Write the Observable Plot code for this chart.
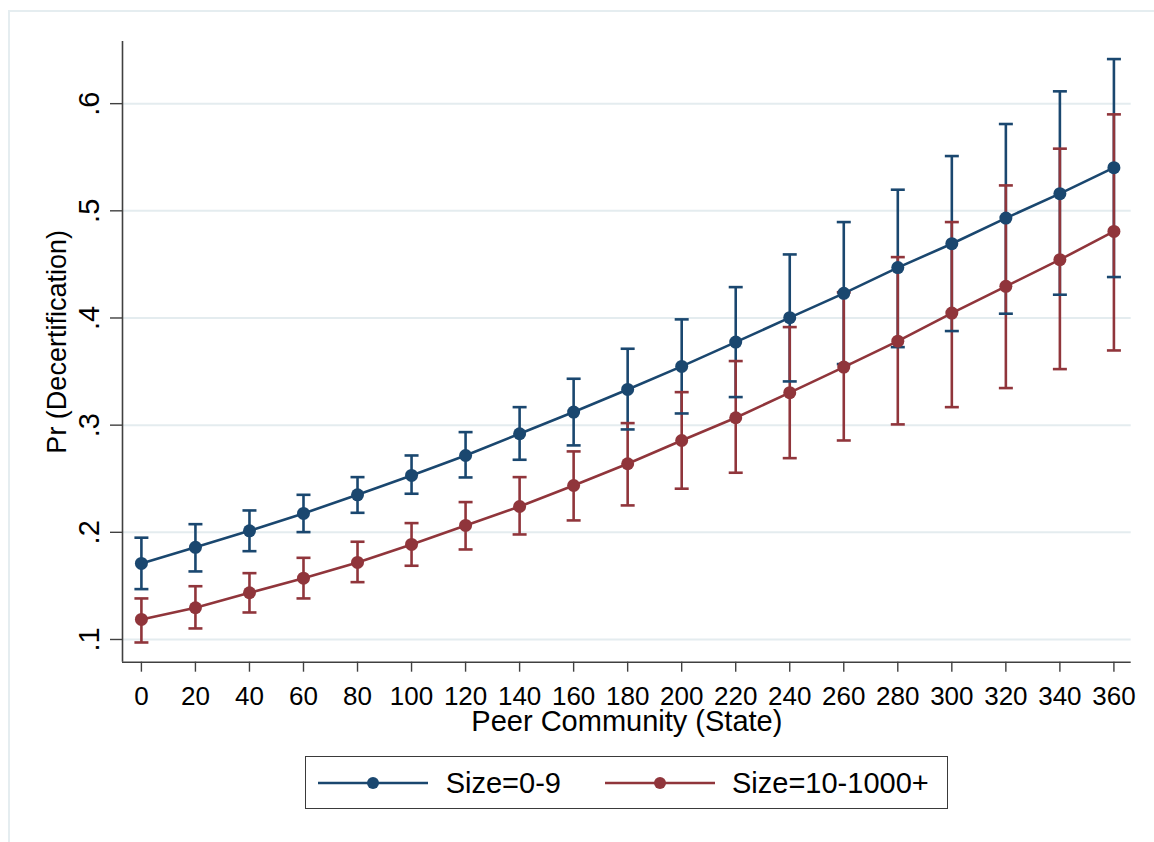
<!DOCTYPE html>
<html>
<head>
<meta charset="utf-8">
<script src="https://cdn.jsdelivr.net/npm/d3@7"></script>
<script src="https://cdn.jsdelivr.net/npm/@observablehq/plot@0.6"></script>
<style>
  body { margin: 0; background: #fff; font-family: "Liberation Sans", Arial, sans-serif; }
  #wrap { position: relative; width: 1154px; height: 842px; overflow: hidden; background: #fff; }
  #frame { position: absolute; left: 8px; top: 10px; width: 1170px; height: 900px; border: 2px solid #e5edf0; box-sizing: border-box; }
  #chart { position: absolute; left: 0; top: 0; }
  #legend { position: absolute; left: 305px; top: 756px; width: 643px; height: 53px; border: 1.5px solid #3a3a3a; box-sizing: border-box; background: #fff; }
  #legend .sw { position: absolute; top: 18px; }
  #legend .lab { position: absolute; top: 11px; font-size: 29px; line-height: 30px; color: #000; white-space: nowrap; }
</style>
</head>
<body>
<div id="wrap">
  <div id="frame"></div>
  <div id="chart"></div>
  <div id="legend"></div>
</div>
<script>
// ---- data ----
const peerCommunity = [0, 20, 40, 60, 80, 100, 120, 140, 160, 180, 200, 220, 240, 260, 280, 300, 320, 340, 360];

const seriesNames = ["Size=0-9", "Size=10-1000+"];
const seriesColors = ["#1a476f", "#90353b"];

const small_mean = [0.171, 0.186, 0.2014, 0.2176, 0.235, 0.2531, 0.2717, 0.292, 0.3122, 0.3333, 0.3548, 0.3775, 0.4003, 0.4230, 0.447, 0.4693, 0.4932, 0.516, 0.5403];
const small_lo   = [0.147, 0.1635, 0.1824, 0.2002, 0.2182, 0.236, 0.2512, 0.2677, 0.2811, 0.296, 0.3109, 0.3262, 0.3408, 0.357, 0.3728, 0.3878, 0.404, 0.4217, 0.4382];
const small_hi   = [0.195, 0.2076, 0.2204, 0.235, 0.2515, 0.2717, 0.2935, 0.3168, 0.3433, 0.3713, 0.3987, 0.4288, 0.4593, 0.4895, 0.5197, 0.5511, 0.581, 0.6115, 0.6416];

const large_mean = [0.1187, 0.1296, 0.1436, 0.1572, 0.1719, 0.1887, 0.2064, 0.2241, 0.2437, 0.264, 0.2857, 0.3069, 0.3303, 0.3542, 0.3784, 0.4046, 0.4295, 0.4544, 0.4808];
const large_lo   = [0.0972, 0.1103, 0.1252, 0.1383, 0.1535, 0.1688, 0.184, 0.198, 0.2111, 0.2251, 0.2407, 0.2556, 0.2692, 0.2857, 0.3007, 0.3168, 0.3346, 0.3523, 0.3697];
const large_hi   = [0.1383, 0.1497, 0.1619, 0.1762, 0.1912, 0.2086, 0.2282, 0.2515, 0.2755, 0.3019, 0.3308, 0.3598, 0.3915, 0.424, 0.4568, 0.4895, 0.5237, 0.558, 0.59];

const xTicks = [0, 20, 40, 60, 80, 100, 120, 140, 160, 180, 200, 220, 240, 260, 280, 300, 320, 340, 360];
const yTicks = [0.1, 0.2, 0.3, 0.4, 0.5, 0.6];
const yTickLabels = [".1", ".2", ".3", ".4", ".5", ".6"];
const xTitle = "Peer Community (State)";
const yTitle = "Pr (Decertification)";
const xDomain = [-7, 366.4];
const yDomain = [0.0788, 0.658];

// ---- table ----
const seriesData = [
  {mean: small_mean, lo: small_lo, hi: small_hi},
  {mean: large_mean, lo: large_lo, hi: large_hi}
];
const rows = seriesNames.flatMap((s, i) => peerCommunity.map((x, j) => ({
  series: s, x, mean: seriesData[i].mean[j], lo: seriesData[i].lo[j], hi: seriesData[i].hi[j]
})));

// horizontal cap symbol for the error bars
const capSymbol = {
  draw(ctx, size) {
    const w = Math.sqrt(size / Math.PI);
    ctx.moveTo(-w, 0);
    ctx.lineTo(w, 0);
  }
};

const axisColor = "#404040";

const chart = Plot.plot({
  width: 1154,
  height: 745,
  marginLeft: 122,
  marginRight: 23.3,
  marginTop: 41,
  marginBottom: 83.3,
  style: { fontFamily: "'Liberation Sans', Arial, sans-serif", color: "#000", background: "transparent" },
  x: { domain: xDomain },
  y: { domain: yDomain },
  color: { domain: seriesNames, range: seriesColors },
  marks: [
    Plot.gridY(yTicks, { stroke: "#e4ecef", strokeOpacity: 1, strokeWidth: 2 }),
    Plot.ruleX(rows, { x: "x", y1: "lo", y2: "hi", stroke: "series", strokeWidth: 2.6 }),
    Plot.dot(rows, { x: "x", y: "lo", symbol: capSymbol, r: 7, stroke: "series", strokeWidth: 2.6, fill: "none" }),
    Plot.dot(rows, { x: "x", y: "hi", symbol: capSymbol, r: 7, stroke: "series", strokeWidth: 2.6, fill: "none" }),
    Plot.line(rows, { x: "x", y: "mean", z: "series", stroke: "series", strokeWidth: 2.6 }),
    Plot.dot(rows, { x: "x", y: "mean", fill: "series", r: 6.5 }),
    Plot.ruleX([xDomain[0]], { stroke: axisColor, strokeWidth: 1.6 }),
    Plot.ruleY([yDomain[0]], { stroke: axisColor, strokeWidth: 1.6 }),
    Plot.axisX(xTicks, { tickSize: 10, tickPadding: 14, fontSize: 26, stroke: axisColor, strokeWidth: 1.4, label: null, tickFormat: d => String(d) }),
    Plot.axisY(yTicks, { tickSize: 12, tickPadding: 12, tickRotate: -90, fontSize: 29, stroke: axisColor, strokeWidth: 1.4, label: null, tickFormat: d => yTickLabels[yTicks.indexOf(d)] }),
    Plot.text([xTitle], { frameAnchor: "bottom", dy: 60, lineAnchor: "middle", textAnchor: "middle", fontSize: 29, fill: "#000" }),
    Plot.text([yTitle], { frameAnchor: "left", rotate: -90, dx: -65, dy: -10, lineAnchor: "middle", textAnchor: "middle", fontSize: 27, fill: "#000" })
  ]
});
document.getElementById("chart").appendChild(chart);

// ---- legend (below the plot) ----
const legend = document.getElementById("legend");
const swatchLeft = [11.5, 299];
const labelLeft = [139.7, 426];
seriesNames.forEach((name, i) => {
  const ns = "http://www.w3.org/2000/svg";
  const svg = document.createElementNS(ns, "svg");
  svg.setAttribute("width", 110);
  svg.setAttribute("height", 16);
  svg.setAttribute("class", "sw");
  svg.style.left = swatchLeft[i] + "px";
  const line = document.createElementNS(ns, "line");
  line.setAttribute("x1", 0); line.setAttribute("x2", 110);
  line.setAttribute("y1", 8); line.setAttribute("y2", 8);
  line.setAttribute("stroke", seriesColors[i]);
  line.setAttribute("stroke-width", 2.6);
  const c = document.createElementNS(ns, "circle");
  c.setAttribute("cx", 55); c.setAttribute("cy", 8); c.setAttribute("r", 6);
  c.setAttribute("fill", seriesColors[i]);
  svg.appendChild(line); svg.appendChild(c);
  legend.appendChild(svg);
  const span = document.createElement("span");
  span.className = "lab";
  span.style.left = labelLeft[i] + "px";
  span.textContent = name;
  legend.appendChild(span);
});
</script>
</body>
</html>
